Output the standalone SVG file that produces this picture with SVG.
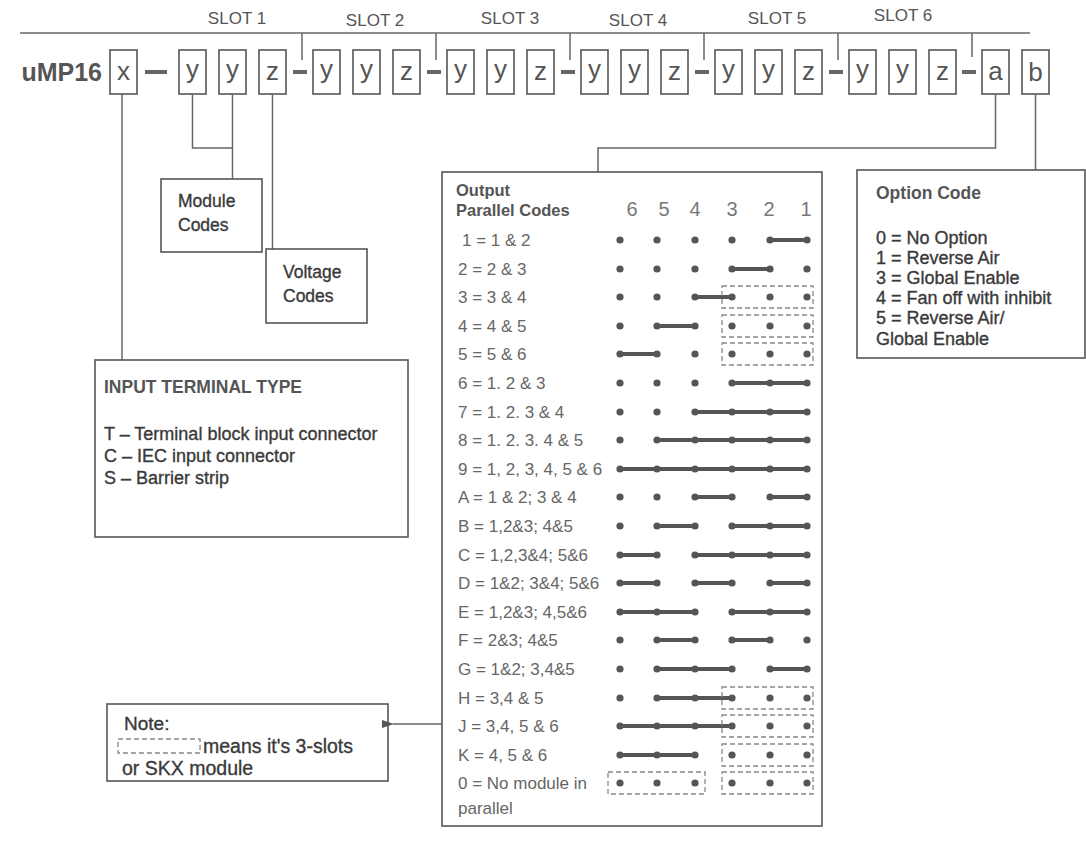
<svg xmlns="http://www.w3.org/2000/svg" width="1086" height="850" viewBox="0 0 1086 850">
<defs>
<style>
.t{font-family:"Liberation Sans",Arial,sans-serif;fill:#555}
.b{font-weight:bold}
.m{fill:#3a3a3a;stroke:#3a3a3a;stroke-width:0.35}
.code{font-size:26px;text-anchor:middle;fill:#555}
.slot{font-size:17px;text-anchor:middle;fill:#555}
.box{fill:none;stroke:#555;stroke-width:1.6}
.ln{fill:none;stroke:#666;stroke-width:1.5}
.dash{fill:#666}
.lbl{font-size:17px;fill:#666}
.hd{font-size:20px;fill:#777;text-anchor:middle}
.bar{stroke:#555;stroke-width:4;stroke-linecap:round}
.dt{fill:#555}
.db{fill:none;stroke:#888;stroke-width:1.3;stroke-dasharray:5 3}
</style>
<marker id="arr" markerWidth="12" markerHeight="10" refX="1" refY="5" orient="auto" markerUnits="userSpaceOnUse">
<path d="M12,1 L0,5 L12,9 Z" fill="#555"/>
</marker>
</defs>
<rect width="1086" height="850" fill="#fff"/>

<g id="slot-bracket">
<line class="ln" x1="20" y1="33" x2="1030" y2="33"/>
<line class="ln" x1="302" y1="33" x2="302" y2="60"/>
<line class="ln" x1="436" y1="33" x2="436" y2="60"/>
<line class="ln" x1="570" y1="33" x2="570" y2="60"/>
<line class="ln" x1="704" y1="33" x2="704" y2="60"/>
<line class="ln" x1="838" y1="33" x2="838" y2="60"/>
<line class="ln" x1="972" y1="33" x2="972" y2="57"/>
<text class="t slot" x="237" y="24">SLOT 1</text>
<text class="t slot" x="375" y="26">SLOT 2</text>
<text class="t slot" x="510" y="24">SLOT 3</text>
<text class="t slot" x="638" y="26">SLOT 4</text>
<text class="t slot" x="777" y="24">SLOT 5</text>
<text class="t slot" x="903" y="21">SLOT 6</text>
</g>

<g id="part-number">
<text class="t b" x="102" y="81" font-size="25" text-anchor="end">uMP16</text>
<rect class="dash" x="145" y="70" width="22" height="4"/>
<rect class="dash" x="293" y="70" width="14" height="4"/>
<rect class="dash" x="427" y="70" width="14" height="4"/>
<rect class="dash" x="561" y="70" width="14" height="4"/>
<rect class="dash" x="695" y="70" width="14" height="4"/>
<rect class="dash" x="829" y="70" width="14" height="4"/>
<rect class="dash" x="962" y="70" width="14" height="4"/>
</g>

<g id="box-x"><rect class="box" x="110" y="50" width="27" height="44"/><text class="t code" x="123.5" y="80">x</text></g>
<g id="box-s1y1"><rect class="box" x="179" y="50" width="27" height="44"/><text class="t code" x="192.5" y="78">y</text></g>
<g id="box-s1y2"><rect class="box" x="219" y="50" width="27" height="44"/><text class="t code" x="232.5" y="78">y</text></g>
<g id="box-s1z"><rect class="box" x="259" y="50" width="27" height="44"/><text class="t code" x="272.5" y="80">z</text></g>
<g id="box-s2y1"><rect class="box" x="313" y="50" width="27" height="44"/><text class="t code" x="326.5" y="78">y</text></g>
<g id="box-s2y2"><rect class="box" x="353" y="50" width="27" height="44"/><text class="t code" x="366.5" y="78">y</text></g>
<g id="box-s2z"><rect class="box" x="393" y="50" width="27" height="44"/><text class="t code" x="406.5" y="80">z</text></g>
<g id="box-s3y1"><rect class="box" x="447" y="50" width="27" height="44"/><text class="t code" x="460.5" y="78">y</text></g>
<g id="box-s3y2"><rect class="box" x="487" y="50" width="27" height="44"/><text class="t code" x="500.5" y="78">y</text></g>
<g id="box-s3z"><rect class="box" x="527" y="50" width="27" height="44"/><text class="t code" x="540.5" y="80">z</text></g>
<g id="box-s4y1"><rect class="box" x="581" y="50" width="27" height="44"/><text class="t code" x="594.5" y="78">y</text></g>
<g id="box-s4y2"><rect class="box" x="621" y="50" width="27" height="44"/><text class="t code" x="634.5" y="78">y</text></g>
<g id="box-s4z"><rect class="box" x="661" y="50" width="27" height="44"/><text class="t code" x="674.5" y="80">z</text></g>
<g id="box-s5y1"><rect class="box" x="715" y="50" width="27" height="44"/><text class="t code" x="728.5" y="78">y</text></g>
<g id="box-s5y2"><rect class="box" x="755" y="50" width="27" height="44"/><text class="t code" x="768.5" y="78">y</text></g>
<g id="box-s5z"><rect class="box" x="795" y="50" width="27" height="44"/><text class="t code" x="808.5" y="80">z</text></g>
<g id="box-s6y1"><rect class="box" x="849" y="50" width="27" height="44"/><text class="t code" x="862.5" y="78">y</text></g>
<g id="box-s6y2"><rect class="box" x="889" y="50" width="27" height="44"/><text class="t code" x="902.5" y="78">y</text></g>
<g id="box-s6z"><rect class="box" x="929" y="50" width="27" height="44"/><text class="t code" x="942.5" y="80">z</text></g>
<g id="box-a"><rect class="box" x="982" y="50" width="27" height="44"/><text class="t code" x="995.5" y="80">a</text></g>
<g id="box-b"><rect class="box" x="1022" y="50" width="27" height="44"/><text class="t code" x="1035.5" y="81">b</text></g>

<g id="connectors">
<polyline class="ln" points="122,94 122,360"/>
<polyline class="ln" points="192.5,94 192.5,148 232.5,148"/>
<polyline class="ln" points="232.5,94 232.5,179"/>
<polyline class="ln" points="272.5,94 272.5,249"/>
<polyline class="ln" points="995.5,94 995.5,148 598,148 598,172"/>
<polyline class="ln" points="1035.5,94 1035.5,170"/>
<line class="ln" x1="442" y1="724" x2="393" y2="724" marker-end="url(#arr)"/>
</g>

<g id="module-codes">
<rect class="box" x="161" y="179" width="101" height="73"/>
<text class="t m" x="178" y="207" font-size="17.5">Module</text>
<text class="t m" x="178" y="231" font-size="17.5">Codes</text>
</g>

<g id="voltage-codes">
<rect class="box" x="266" y="249" width="101" height="74"/>
<text class="t m" x="283" y="278" font-size="17.5">Voltage</text>
<text class="t m" x="283" y="302" font-size="17.5">Codes</text>
</g>

<g id="input-terminal-type">
<rect class="box" x="95" y="360" width="313" height="177"/>
<text class="t b" x="104" y="393" font-size="17.5" fill="#444">INPUT TERMINAL TYPE</text>
<text class="t m" x="104" y="440" font-size="18">T – Terminal block input connector</text>
<text class="t m" x="104" y="462" font-size="18">C – IEC input connector</text>
<text class="t m" x="104" y="484" font-size="18">S – Barrier strip</text>
</g>

<g id="option-code">
<rect class="box" x="857" y="170" width="228" height="188"/>
<text class="t b" x="876" y="199" font-size="17.5">Option Code</text>
<text class="t m" x="876" y="244" font-size="18">0 = No Option</text>
<text class="t m" x="876" y="264" font-size="18">1 = Reverse Air</text>
<text class="t m" x="876" y="284" font-size="18">3 = Global Enable</text>
<text class="t m" x="876" y="304" font-size="18">4 = Fan off with inhibit</text>
<text class="t m" x="876" y="324" font-size="18">5 = Reverse Air/</text>
<text class="t m" x="876" y="345" font-size="18">Global Enable</text>
</g>

<g id="note">
<rect class="box" x="107" y="704" width="281" height="77"/>
<text class="t m" x="124" y="730" font-size="19">Note:</text>
<rect class="db" x="118" y="739" width="82" height="14"/>
<text class="t m" x="203" y="753" font-size="19.5">means it's 3-slots</text>
<text class="t m" x="122" y="775" font-size="19.5">or SKX module</text>
</g>

<g id="parallel-codes-table">
<rect class="box" x="442" y="172" width="380" height="654"/>
<text class="t b" x="456" y="196" font-size="16.5">Output</text>
<text class="t b" x="456" y="216" font-size="16.5">Parallel Codes</text>
<text class="t hd" x="632" y="216">6</text>
<text class="t hd" x="664" y="216">5</text>
<text class="t hd" x="695" y="216">4</text>
<text class="t hd" x="732" y="216">3</text>
<text class="t hd" x="769" y="216">2</text>
<text class="t hd" x="806" y="216">1</text>

<text class="t lbl" x="462" y="246">1 = 1 &amp; 2</text>
<text class="t lbl" x="458" y="275">2 = 2 &amp; 3</text>
<text class="t lbl" x="458" y="303">3 = 3 &amp; 4</text>
<text class="t lbl" x="458" y="332">4 = 4 &amp; 5</text>
<text class="t lbl" x="458" y="360">5 = 5 &amp; 6</text>
<text class="t lbl" x="458" y="389">6 = 1. 2 &amp; 3</text>
<text class="t lbl" x="458" y="418">7 = 1. 2. 3 &amp; 4</text>
<text class="t lbl" x="458" y="446">8 = 1. 2. 3. 4 &amp; 5</text>
<text class="t lbl" x="458" y="475">9 = 1, 2, 3, 4, 5 &amp; 6</text>
<text class="t lbl" x="458" y="503">A = 1 &amp; 2; 3 &amp; 4</text>
<text class="t lbl" x="458" y="532">B = 1,2&amp;3; 4&amp;5</text>
<text class="t lbl" x="458" y="561">C = 1,2,3&amp;4; 5&amp;6</text>
<text class="t lbl" x="458" y="589">D = 1&amp;2; 3&amp;4; 5&amp;6</text>
<text class="t lbl" x="458" y="618">E = 1,2&amp;3; 4,5&amp;6</text>
<text class="t lbl" x="458" y="646">F = 2&amp;3; 4&amp;5</text>
<text class="t lbl" x="458" y="675">G = 1&amp;2; 3,4&amp;5</text>
<text class="t lbl" x="458" y="704">H = 3,4 &amp; 5</text>
<text class="t lbl" x="458" y="732">J = 3,4, 5 &amp; 6</text>
<text class="t lbl" x="458" y="761">K = 4, 5 &amp; 6</text>
<text class="t lbl" x="458" y="789">0 = No module in</text>
<text class="t lbl" x="458" y="814">parallel</text>

<g transform="translate(0,240)"><circle class="dt" cx="620" r="3.6"/><circle class="dt" cx="657" r="3.6"/><circle class="dt" cx="695" r="3.6"/><circle class="dt" cx="732" r="3.6"/><line class="bar" x1="770" x2="807"/><circle class="dt" cx="770" r="3.6"/><circle class="dt" cx="807" r="3.6"/></g>
<g transform="translate(0,269)"><circle class="dt" cx="620" r="3.6"/><circle class="dt" cx="657" r="3.6"/><circle class="dt" cx="695" r="3.6"/><line class="bar" x1="732" x2="770"/><circle class="dt" cx="732" r="3.6"/><circle class="dt" cx="770" r="3.6"/><circle class="dt" cx="807" r="3.6"/></g>
<g transform="translate(0,297)"><circle class="dt" cx="620" r="3.6"/><circle class="dt" cx="657" r="3.6"/><line class="bar" x1="695" x2="732"/><circle class="dt" cx="695" r="3.6"/><circle class="dt" cx="732" r="3.6"/><circle class="dt" cx="770" r="3.6"/><circle class="dt" cx="807" r="3.6"/><rect class="db" x="722" y="-11" width="91" height="22"/></g>
<g transform="translate(0,326)"><circle class="dt" cx="620" r="3.6"/><line class="bar" x1="657" x2="695"/><circle class="dt" cx="657" r="3.6"/><circle class="dt" cx="695" r="3.6"/><circle class="dt" cx="732" r="3.6"/><circle class="dt" cx="770" r="3.6"/><circle class="dt" cx="807" r="3.6"/><rect class="db" x="722" y="-11" width="91" height="22"/></g>
<g transform="translate(0,354)"><line class="bar" x1="620" x2="657"/><circle class="dt" cx="620" r="3.6"/><circle class="dt" cx="657" r="3.6"/><circle class="dt" cx="695" r="3.6"/><circle class="dt" cx="732" r="3.6"/><circle class="dt" cx="770" r="3.6"/><circle class="dt" cx="807" r="3.6"/><rect class="db" x="722" y="-11" width="91" height="22"/></g>
<g transform="translate(0,383)"><circle class="dt" cx="620" r="3.6"/><circle class="dt" cx="657" r="3.6"/><circle class="dt" cx="695" r="3.6"/><line class="bar" x1="732" x2="807"/><circle class="dt" cx="732" r="3.6"/><circle class="dt" cx="770" r="3.6"/><circle class="dt" cx="807" r="3.6"/></g>
<g transform="translate(0,412)"><circle class="dt" cx="620" r="3.6"/><circle class="dt" cx="657" r="3.6"/><line class="bar" x1="695" x2="807"/><circle class="dt" cx="695" r="3.6"/><circle class="dt" cx="732" r="3.6"/><circle class="dt" cx="770" r="3.6"/><circle class="dt" cx="807" r="3.6"/></g>
<g transform="translate(0,440)"><circle class="dt" cx="620" r="3.6"/><line class="bar" x1="657" x2="807"/><circle class="dt" cx="657" r="3.6"/><circle class="dt" cx="695" r="3.6"/><circle class="dt" cx="732" r="3.6"/><circle class="dt" cx="770" r="3.6"/><circle class="dt" cx="807" r="3.6"/></g>
<g transform="translate(0,469)"><line class="bar" x1="620" x2="807"/><circle class="dt" cx="620" r="3.6"/><circle class="dt" cx="657" r="3.6"/><circle class="dt" cx="695" r="3.6"/><circle class="dt" cx="732" r="3.6"/><circle class="dt" cx="770" r="3.6"/><circle class="dt" cx="807" r="3.6"/></g>
<g transform="translate(0,497)"><circle class="dt" cx="620" r="3.6"/><circle class="dt" cx="657" r="3.6"/><line class="bar" x1="695" x2="732"/><circle class="dt" cx="695" r="3.6"/><circle class="dt" cx="732" r="3.6"/><line class="bar" x1="770" x2="807"/><circle class="dt" cx="770" r="3.6"/><circle class="dt" cx="807" r="3.6"/></g>
<g transform="translate(0,526)"><circle class="dt" cx="620" r="3.6"/><line class="bar" x1="657" x2="695"/><circle class="dt" cx="657" r="3.6"/><circle class="dt" cx="695" r="3.6"/><line class="bar" x1="732" x2="807"/><circle class="dt" cx="732" r="3.6"/><circle class="dt" cx="770" r="3.6"/><circle class="dt" cx="807" r="3.6"/></g>
<g transform="translate(0,555)"><line class="bar" x1="620" x2="657"/><circle class="dt" cx="620" r="3.6"/><circle class="dt" cx="657" r="3.6"/><line class="bar" x1="695" x2="807"/><circle class="dt" cx="695" r="3.6"/><circle class="dt" cx="732" r="3.6"/><circle class="dt" cx="770" r="3.6"/><circle class="dt" cx="807" r="3.6"/></g>
<g transform="translate(0,583)"><line class="bar" x1="620" x2="657"/><circle class="dt" cx="620" r="3.6"/><circle class="dt" cx="657" r="3.6"/><line class="bar" x1="695" x2="732"/><circle class="dt" cx="695" r="3.6"/><circle class="dt" cx="732" r="3.6"/><line class="bar" x1="770" x2="807"/><circle class="dt" cx="770" r="3.6"/><circle class="dt" cx="807" r="3.6"/></g>
<g transform="translate(0,612)"><line class="bar" x1="620" x2="695"/><circle class="dt" cx="620" r="3.6"/><circle class="dt" cx="657" r="3.6"/><circle class="dt" cx="695" r="3.6"/><line class="bar" x1="732" x2="807"/><circle class="dt" cx="732" r="3.6"/><circle class="dt" cx="770" r="3.6"/><circle class="dt" cx="807" r="3.6"/></g>
<g transform="translate(0,640)"><circle class="dt" cx="620" r="3.6"/><line class="bar" x1="657" x2="695"/><circle class="dt" cx="657" r="3.6"/><circle class="dt" cx="695" r="3.6"/><line class="bar" x1="732" x2="770"/><circle class="dt" cx="732" r="3.6"/><circle class="dt" cx="770" r="3.6"/><circle class="dt" cx="807" r="3.6"/></g>
<g transform="translate(0,669)"><circle class="dt" cx="620" r="3.6"/><line class="bar" x1="657" x2="732"/><circle class="dt" cx="657" r="3.6"/><circle class="dt" cx="695" r="3.6"/><circle class="dt" cx="732" r="3.6"/><line class="bar" x1="770" x2="807"/><circle class="dt" cx="770" r="3.6"/><circle class="dt" cx="807" r="3.6"/></g>
<g transform="translate(0,698)"><circle class="dt" cx="620" r="3.6"/><line class="bar" x1="657" x2="732"/><circle class="dt" cx="657" r="3.6"/><circle class="dt" cx="695" r="3.6"/><circle class="dt" cx="732" r="3.6"/><circle class="dt" cx="770" r="3.6"/><circle class="dt" cx="807" r="3.6"/><rect class="db" x="722" y="-11" width="91" height="22"/></g>
<g transform="translate(0,726)"><line class="bar" x1="620" x2="732"/><circle class="dt" cx="620" r="3.6"/><circle class="dt" cx="657" r="3.6"/><circle class="dt" cx="695" r="3.6"/><circle class="dt" cx="732" r="3.6"/><circle class="dt" cx="770" r="3.6"/><circle class="dt" cx="807" r="3.6"/><rect class="db" x="722" y="-11" width="91" height="22"/></g>
<g transform="translate(0,755)"><line class="bar" x1="620" x2="695"/><circle class="dt" cx="620" r="3.6"/><circle class="dt" cx="657" r="3.6"/><circle class="dt" cx="695" r="3.6"/><circle class="dt" cx="732" r="3.6"/><circle class="dt" cx="770" r="3.6"/><circle class="dt" cx="807" r="3.6"/><rect class="db" x="722" y="-11" width="91" height="22"/></g>
<g transform="translate(0,783)"><circle class="dt" cx="620" r="3.6"/><circle class="dt" cx="657" r="3.6"/><circle class="dt" cx="695" r="3.6"/><circle class="dt" cx="732" r="3.6"/><circle class="dt" cx="770" r="3.6"/><circle class="dt" cx="807" r="3.6"/><rect class="db" x="608" y="-11" width="97" height="22"/><rect class="db" x="722" y="-11" width="91" height="22"/></g>
</g>
</svg>
